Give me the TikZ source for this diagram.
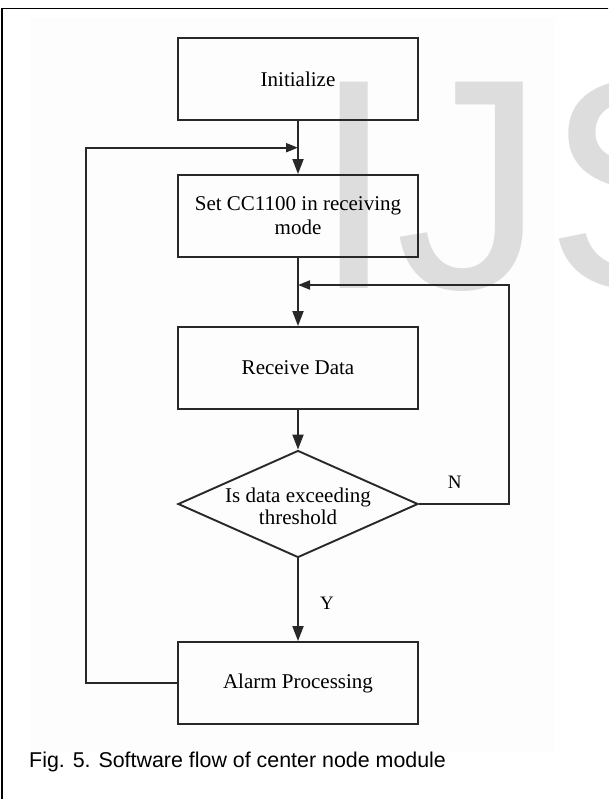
\documentclass[tikz,border=0pt]{standalone}
\usepackage{fontspec}
\setmainfont{Liberation Serif}
\newfontfamily\capfont{Liberation Sans}
\newfontfamily\markfont{Liberation Sans}
\usetikzlibrary{arrows.meta,shapes.geometric,calc}

\definecolor{inkline}{RGB}{40,40,40}
\definecolor{markgray}{RGB}{221,221,221}
\definecolor{paperbg}{RGB}{253,253,253}

\tikzset{
  procbox/.style={draw=inkline, line width=1.9pt, rectangle, minimum width=240pt,
    minimum height=82pt, inner sep=0pt, align=center,
    font=\fontsize{21}{24}\selectfont},
  decbox/.style={draw=inkline, line width=1.9pt, diamond, minimum width=240pt,
    minimum height=107pt, inner sep=0pt},
  dectext/.style={align=center, inner sep=0pt, font=\fontsize{21}{22}\selectfont},
  flowline/.style={draw=inkline, line width=1.9pt},
  bigtip/.style={flowline, -{Triangle[length=15pt,width=11pt]}},
  smalltip/.style={flowline, -{Triangle[length=12pt,width=9pt]}},
  yesno/.style={inner sep=0pt, font=\fontsize{19}{19}\selectfont}
}

\begin{document}
\begin{tikzpicture}[x=1pt, y=-1pt]
  \useasboundingbox (0,0) rectangle (608,799);
  \begin{scope}
    \clip (0,0) rectangle (608,799);

    % pale page area behind the chart
    \fill[paperbg] (30,18) rectangle (555,752);

    % journal watermark
    \node[anchor=base west, inner sep=0pt, text=markgray,
          font=\markfont\fontsize{300}{300}\selectfont] (mark) at (312,288) {IJS};

    % frame
    \draw[black, line width=1.5pt] (2,830) -- (2,8.5) -- (640,8.5);
  \end{scope}

  % process steps
  \node[procbox] (init)  at (298,79)  {Initialize};
  \node[procbox] (setrx) at (298,216) {Set CC1100 in receiving\\mode};
  \node[procbox] (recv)  at (298,368) {Receive Data};
  \node[decbox]  (dia)   at (298,504) {};
  \node[dectext] (diatx) at (298,506) {Is data exceeding\\threshold};
  \node[procbox] (alarm) at (298,683) {Alarm Processing};

  % merge points on the main line
  \coordinate (mergeA) at (298,147.7);
  \coordinate (mergeB) at (298,285);
  \coordinate (leftA)  at (86,147.7);
  \coordinate (rightB) at (509,285);

  % main flow
  \draw[bigtip] (init.south) -- (setrx.north);
  \draw[bigtip] (setrx.south) -- (recv.north);
  \draw[bigtip] (recv.south) -- (dia.north);
  \draw[bigtip] (dia.south) -- (alarm.north);

  % loop back after alarm
  \draw[smalltip] (alarm.west) -| (leftA) -- (mergeA);

  % loop back when below threshold
  \draw[smalltip] (dia.east) -| (rightB) -- (mergeB);

  % branch labels
  \node[yesno] (nlab) at (454.7,482.5) {N};
  \node[yesno] (ylab) at (327,603) {Y};

  % caption
  \node[anchor=base west, inner sep=0pt, font=\capfont\fontsize{21.4}{21.4}\selectfont]
    (cap) at (29,767) {Fig. 5. Software flow of center node module};
\end{tikzpicture}
\end{document}
